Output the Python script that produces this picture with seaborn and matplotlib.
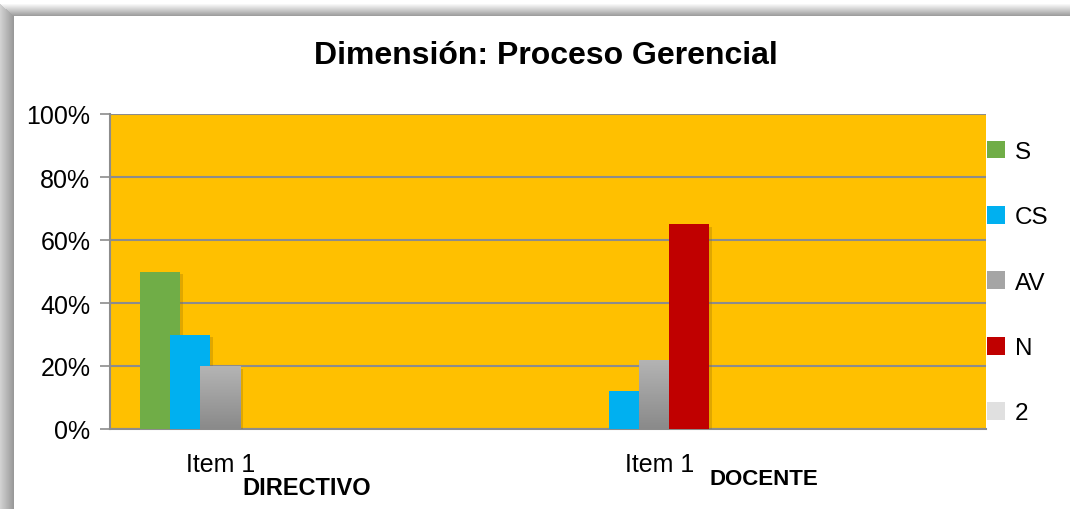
import numpy as np
import pandas as pd
import seaborn as sns
import matplotlib.pyplot as plt
import matplotlib.patheffects as pe
import matplotlib.transforms as mtransforms
from matplotlib.colors import LinearSegmentedColormap
from matplotlib.patches import Rectangle
from matplotlib.ticker import PercentFormatter

# Datos
grupos = ["DIRECTIVO", "DOCENTE"]
item_labels = ["Item 1", "Item 1"]
series = ["S", "CS", "AV", "N", "2"]
directivo = [50, 30, 20, 0, 0]
docente = [0, 12, 22, 65, 0]
colores = ["#70AD47", "#00B0F0", "#A5A5A5", "#C00000", "#E0E0E0"]
y_ticks = [0, 20, 40, 60, 80, 100]

df = pd.DataFrame({
    "grupo": np.repeat(grupos, len(series)),
    "serie": series * len(grupos),
    "valor": directivo + docente,
})

sns.set_theme(style="white")
plt.rcParams["font.family"] = ["Liberation Sans", "DejaVu Sans"]
plt.rcParams["text.color"] = "black"

W, H = 1070, 510
fig = plt.figure(figsize=(W / 100, H / 100), dpi=100)
fig.patch.set_facecolor("white")

# marco con sombra (izquierda y arriba)
for k in range(12):
    g = 0.97 - 0.35 * k / 11
    fig.add_artist(Rectangle((0, 1 - (6 + k) / H), 1, 1 / H, color=str(g), lw=0))
for k in range(14):
    g = 0.82 - 0.22 * k / 13
    fig.add_artist(Rectangle((k / W, 0), 1 / W, 1 - (5 + k * 0.9) / H, color=str(g), lw=0))

ax = fig.add_axes([110 / W, 80 / H, 876 / W, 315 / H])
ax.set_facecolor("#FFC000")

sns.barplot(data=df, x="grupo", y="valor", hue="serie", hue_order=series,
            palette=colores, saturation=1, width=0.3417, linewidth=0, ax=ax)

# barras mas anchas y superpuestas como en Excel
sombra = [pe.SimplePatchShadow(offset=(2, -2), shadow_rgbFace="#9a7000", alpha=0.3), pe.Normal()]
for i, cont in enumerate(ax.containers):
    for p in cont:
        p.set_width(p.get_width() * 4 / 3)
        p.set_zorder(3 + i * 0.1)
        if p.get_height() > 0:
            p.set_path_effects(sombra)

# degradado de la serie AV
grad = LinearSegmentedColormap.from_list("av", ["#B4B4B4", "#8A8A8A"])
for p in ax.containers[2]:
    h = p.get_height()
    if h > 0:
        x0 = p.get_x()
        im = ax.imshow(np.linspace(0, 1, 64).reshape(-1, 1), cmap=grad, aspect="auto",
                       extent=[x0, x0 + p.get_width(), 0, h], origin="upper", zorder=3.25)
        im.set_clip_path(p)

ax.set_xlim(-0.2392, 1.7563)
ax.set_ylim(0, 100)
ax.set_xlabel("")
ax.set_ylabel("")

ax.set_yticks(y_ticks)
ax.yaxis.set_major_formatter(PercentFormatter(100, decimals=0))
ax.set_xticks(range(len(grupos)))
ax.set_xticklabels(item_labels)
ax.yaxis.grid(True, color="#8C8C8C", lw=1.5)
ax.set_axisbelow(True)
ax.tick_params(axis="y", left=True, length=7.2, width=1.2, color="#8C8C8C",
               pad=7, labelsize=18, labelcolor="black")
ax.tick_params(axis="x", length=0, pad=16.5, labelsize=18, labelcolor="black")
shift = mtransforms.ScaledTranslation(6 / 100, 0, fig.dpi_scale_trans)
for lbl in ax.get_xticklabels():
    lbl.set_transform(lbl.get_transform() + shift)

for s in ["top", "right"]:
    ax.spines[s].set_visible(False)
for s in ["left", "bottom"]:
    ax.spines[s].set_color("#8C8C8C")
    ax.spines[s].set_linewidth(1.5)

# etiquetas de grupo bajo "Item 1"
sub_offsets = [(92, -59, 17), (110, -50, 16)]
for i, g in enumerate(grupos):
    dx, dy, fs = sub_offsets[i]
    ax.annotate(g, xy=(i, 0), xycoords="data", xytext=(dx, dy), textcoords="offset pixels",
                ha="center", va="center", fontsize=fs, fontweight="bold", annotation_clip=False)

handles, labels = ax.get_legend_handles_labels()
ax.legend_.remove()
ax.legend(handles, labels, loc="center left", bbox_to_anchor=(987 / W, 1 - 283.5 / H),
          bbox_transform=fig.transFigure, frameon=False, fontsize=17.5,
          handlelength=0.75, handleheight=0.75, handletextpad=0.4,
          labelspacing=1.77, borderpad=0, borderaxespad=0)

fig.text(546 / W, 1 - 56 / H, "Dimensión: Proceso Gerencial", ha="center", va="center",
         fontsize=23, fontweight="bold")

fig.savefig("out.png", dpi=100)
